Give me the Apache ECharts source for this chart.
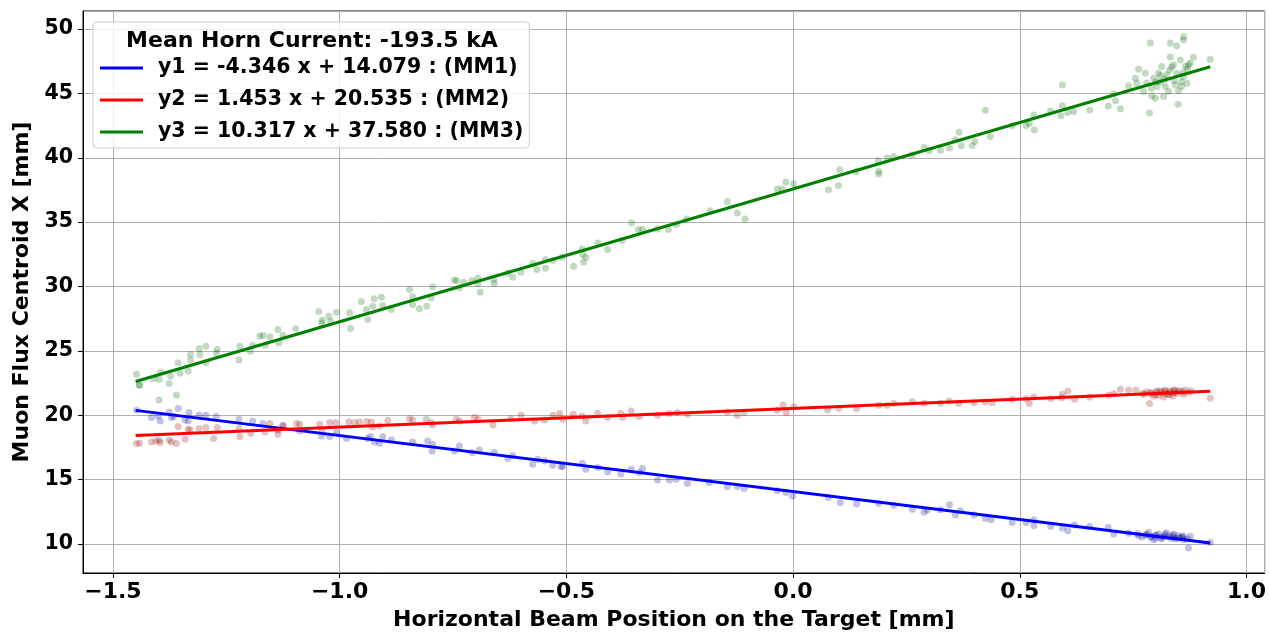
<!DOCTYPE html>
<html>
<head>
<meta charset="utf-8">
<script src="https://cdn.jsdelivr.net/npm/echarts@6/dist/echarts.min.js"></script>
<style>
  html, body { margin: 0; padding: 0; background: #fff; }
  #chart { width: 1269px; height: 636px; }
</style>
</head>
<body>
<div id="chart"></div>
<script>
// Horn current and fit coefficients (y = slope * x + intercept) per muon monitor
const hornCurrentText = 'Mean Horn Current: -193.5 kA';
const monitorNames = ['MM1', 'MM2', 'MM3'];
const fitSlopes = [-4.346, 1.453, 10.317];
const fitIntercepts = [14.079, 20.535, 37.580];
const fitRange = [-1.45, 0.92];

// MM1 centroid measurements
const mm1X = [-1.448,-1.415,-1.400,-1.396,-1.376,-1.371,-1.366,-1.356,-1.341,-1.334,-1.332,-1.310,-1.295,-1.272,-1.222,-1.192,-1.169,-1.125,-1.136,-1.088,
  -1.040,-1.022,-1.007,-0.985,-0.938,-0.932,-0.923,-0.912,-0.905,-0.886,-0.839,-0.806,-0.795,-0.796,-0.747,-0.736,-0.708,-0.692,-0.659,-0.629,
  -0.618,-0.574,-0.563,-0.548,-0.530,-0.508,-0.512,-0.465,-0.457,-0.431,-0.409,-0.380,-0.357,-0.332,-0.339,-0.299,-0.273,-0.258,-0.233,-0.185,
  -0.145,-0.123,-0.108,-0.035,-0.016,-0.001,0.078,0.104,0.140,0.189,0.222,0.263,0.289,0.296,0.325,0.345,0.358,0.369,0.399,0.424,
  0.437,0.483,0.514,0.531,0.531,0.568,0.594,0.606,0.621,0.654,0.695,0.707,0.740,0.762,0.777,0.784,0.788,0.795,0.799,0.806,
  0.812,0.817,0.824,0.832,0.837,0.843,0.850,0.856,0.861,0.872,0.876,0.920,0.780,0.790,0.800,0.810,0.820,0.830,0.840,0.850,
  0.860,0.870,0.800,0.820,0.840,0.860,0.760,0.770];
const mm1Y = [20.39,19.82,19.95,19.56,20.26,19.82,19.90,20.52,19.64,19.56,20.21,20.00,20.00,19.90,19.69,19.56,19.36,19.17,18.86,18.78,
  18.40,18.35,18.66,18.19,18.19,18.35,17.93,17.83,18.35,18.09,17.93,18.01,17.75,17.23,17.23,17.62,17.11,17.31,17.11,16.64,
  16.85,16.20,16.59,16.46,16.12,16.02,16.02,16.28,15.81,15.95,15.60,15.43,15.81,15.87,15.56,14.98,14.98,15.04,14.73,14.78,
  14.44,14.47,14.32,14.13,14.01,13.74,13.62,13.23,13.10,13.16,13.02,12.71,12.46,12.64,12.66,13.05,12.25,12.58,12.25,11.99,
  11.88,11.68,11.68,11.88,11.42,11.37,11.22,11.03,11.47,11.37,11.29,10.78,10.83,10.64,10.70,10.91,10.52,10.33,10.64,10.78,
  10.39,10.52,10.85,10.44,10.70,10.39,10.64,10.52,10.33,9.69,10.60,10.13,10.75,10.60,10.70,10.55,10.65,10.60,10.50,10.45,
  10.50,10.40,10.45,10.80,10.75,10.65,10.80,10.55];

// MM2 centroid measurements
const mm2X = [-1.448,-1.441,-1.415,-1.405,-1.398,-1.396,-1.376,-1.371,-1.360,-1.356,-1.341,-1.334,-1.330,-1.310,-1.295,-1.278,-1.270,-1.222,-1.220,-1.196,
  -1.165,-1.154,-1.136,-1.125,-1.095,-1.088,-1.044,-1.039,-1.022,-1.009,-0.980,-0.967,-0.956,-0.940,-0.930,-0.927,-0.912,-0.894,-0.846,-0.839,
  -0.809,-0.798,-0.795,-0.743,-0.736,-0.703,-0.695,-0.662,-0.622,-0.600,-0.570,-0.548,-0.530,-0.515,-0.508,-0.485,-0.465,-0.457,-0.431,-0.409,
  -0.380,-0.376,-0.357,-0.339,-0.299,-0.273,-0.255,-0.233,-0.145,-0.123,-0.108,-0.035,-0.022,-0.015,0.002,0.076,0.101,0.140,0.189,0.208,
  0.222,0.263,0.289,0.325,0.344,0.366,0.399,0.424,0.439,0.483,0.514,0.521,0.531,0.568,0.592,0.594,0.606,0.621,0.654,0.696,
  0.707,0.722,0.740,0.756,0.775,0.786,0.788,0.795,0.803,0.806,0.812,0.817,0.821,0.826,0.832,0.837,0.841,0.846,0.854,0.861,
  0.865,0.872,0.878,0.920,0.790,0.800,0.810,0.820,0.830,0.840,0.850,0.860,0.830,0.800,0.820,0.840,0.770,0.780];
const mm2Y = [17.81,17.83,17.93,18.01,18.06,17.88,18.06,17.93,17.81,19.12,18.14,18.91,18.86,18.97,19.05,18.19,19.05,18.97,18.35,18.60,
  18.71,19.36,18.53,19.22,19.36,19.30,19.30,18.86,19.43,19.43,19.48,19.43,19.48,19.51,19.48,19.09,19.17,19.61,19.74,19.64,
  19.69,19.43,19.25,19.69,19.56,19.82,19.69,19.25,19.74,20.00,19.56,19.64,20.00,20.13,19.69,20.08,19.95,19.56,20.16,19.82,
  20.13,19.82,20.33,19.90,20.00,20.13,20.21,20.08,20.26,20.00,20.21,20.39,20.80,20.21,20.64,20.41,20.54,20.52,20.78,20.78,
  20.91,21.06,20.93,20.93,21.11,20.93,20.98,21.03,20.98,21.24,21.29,20.91,21.42,21.29,21.37,21.63,21.88,21.24,21.42,21.55,
  21.68,22.02,21.96,21.96,21.63,20.91,21.76,21.50,21.88,21.55,21.76,21.42,21.88,21.63,21.81,21.50,21.96,21.71,21.88,21.63,
  21.96,21.76,21.88,21.32,21.70,21.80,21.90,21.70,21.85,21.75,21.90,21.80,21.60,21.60,21.95,21.95,21.70,21.80];

// MM3 centroid measurements
const mm3X = [-1.448,-1.442,-1.441,-1.411,-1.398,-1.395,-1.398,-1.376,-1.373,-1.360,-1.356,-1.352,-1.334,-1.329,-1.329,-1.310,-1.308,-1.295,-1.295,-1.272,
  -1.270,-1.222,-1.220,-1.197,-1.192,-1.176,-1.169,-1.164,-1.154,-1.136,-1.134,-1.125,-1.097,-1.046,-1.040,-1.038,-1.024,-1.020,-1.007,-0.978,
  -0.976,-0.952,-0.941,-0.938,-0.927,-0.924,-0.908,-0.905,-0.886,-0.846,-0.839,-0.839,-0.824,-0.808,-0.798,-0.795,-0.747,-0.742,-0.736,-0.727,
  -0.708,-0.695,-0.695,-0.690,-0.660,-0.659,-0.629,-0.618,-0.600,-0.574,-0.565,-0.546,-0.546,-0.530,-0.509,-0.484,-0.465,-0.464,-0.457,-0.462,
  -0.431,-0.409,-0.377,-0.356,-0.341,-0.332,-0.299,-0.275,-0.257,-0.235,-0.183,-0.145,-0.123,-0.106,-0.035,-0.016,-0.024,0.001,0.078,0.100,
  0.103,0.139,0.188,0.189,0.189,0.208,0.222,0.263,0.289,0.300,0.325,0.345,0.358,0.366,0.371,0.395,0.401,0.424,0.435,0.483,
  0.514,0.521,0.531,0.532,0.568,0.591,0.594,0.594,0.606,0.619,0.654,0.695,0.707,0.711,0.722,0.740,0.755,0.762,0.758,0.773,
  0.777,0.786,0.788,0.791,0.795,0.799,0.803,0.806,0.810,0.813,0.817,0.821,0.824,0.828,0.832,0.832,0.835,0.839,0.843,0.846,
  0.846,0.849,0.854,0.856,0.857,0.861,0.861,0.861,0.865,0.869,0.872,0.876,0.883,0.920,0.800,0.820,0.840,0.850,0.830,0.790,
  0.810,0.860,0.870,0.780];
const mm3Y = [23.18,22.35,22.33,22.84,22.79,23.36,21.19,22.46,23.05,21.57,24.08,23.26,23.43,24.29,24.73,25.17,24.73,25.37,24.08,24.81,
  25.12,24.29,25.37,24.98,25.43,26.15,26.20,25.43,26.10,26.67,25.64,26.22,26.72,28.06,27.19,27.39,27.70,27.31,28.01,27.96,
  26.74,28.84,28.22,27.44,28.47,29.05,29.17,28.53,28.22,29.77,29.20,28.60,28.27,28.47,29.12,29.98,30.49,30.47,29.90,30.34,
  30.47,30.67,30.21,29.56,30.54,30.23,31.06,30.72,31.11,31.78,31.32,32.09,31.42,32.02,32.27,31.57,32.92,32.48,32.27,31.91,
  33.39,32.87,33.57,34.94,34.42,34.42,34.47,34.42,34.81,35.25,35.89,36.61,35.71,35.25,37.57,38.12,37.57,37.98,37.52,37.85,
  39.07,38.94,39.77,38.94,38.74,39.98,40.10,40.23,40.80,40.54,40.57,40.75,41.40,41.99,40.93,40.95,41.26,43.69,41.65,42.48,
  42.50,42.69,43.33,42.15,43.64,43.26,45.66,44.05,43.51,43.59,43.72,44.03,44.96,44.42,43.80,45.60,46.18,46.87,45.79,45.14,
  46.56,43.47,48.91,44.81,46.18,44.63,45.53,46.56,45.91,47.08,44.75,45.53,46.43,45.14,48.91,47.83,47.05,47.21,45.66,48.70,
  46.56,44.15,47.60,45.91,45.53,49.40,49.15,46.30,47.08,45.79,47.21,47.34,47.80,47.65,45.90,46.10,46.00,45.20,46.80,45.40,
  46.40,46.60,46.90,45.80];

const scatterColors = ['rgba(0,0,139,0.3)', 'rgba(139,0,0,0.3)', 'rgba(0,100,0,0.3)'];
const lineColors = ['#0000ff', '#ff0000', '#008000'];

const font = "'DejaVu Sans', 'Liberation Sans', sans-serif";

function pairs(xs, ys) { return xs.map((x, i) => [x, ys[i]]); }
function fmt(v) { return v.toFixed(3); }
function fitLabel(i) {
  const s = fitSlopes[i];
  const sign = s < 0 ? '-' : '';
  return 'y' + (i + 1) + ' = ' + sign + fmt(Math.abs(s)) + ' x + ' + fmt(fitIntercepts[i]) + ' : (' + monitorNames[i] + ')';
}

const measured = [pairs(mm1X, mm1Y), pairs(mm2X, mm2Y), pairs(mm3X, mm3Y)];

const series = [];
measured.forEach((d, i) => {
  series.push({
    type: 'scatter',
    name: monitorNames[i] + ' data',
    data: d,
    symbolSize: 7,
    itemStyle: { color: scatterColors[i] },
    z: 2,
    silent: true
  });
});
const lineNames = [];
fitSlopes.forEach((s, i) => {
  const name = fitLabel(i);
  lineNames.push({ name: name, icon: 'rect' });
  series.push({
    type: 'line',
    name: name,
    data: fitRange.map(x => [x, s * x + fitIntercepts[i]]),
    symbol: 'none',
    lineStyle: { color: lineColors[i], width: 3 },
    itemStyle: { color: lineColors[i] },
    z: 3,
    silent: true
  });
});

const chart = echarts.init(document.getElementById('chart'), null, { renderer: 'canvas' });
chart.setOption({
  animation: false,
  backgroundColor: '#ffffff',
  grid: {
    left: 83, right: 3, top: 11, bottom: 62,
    show: true, borderColor: '#000', borderWidth: 1
  },
  xAxis: {
    type: 'value',
    min: -1.566, max: 1.04,
    minInterval: 0.5, maxInterval: 0.5,
    name: 'Horizontal Beam Position on the Target [mm]',
    nameLocation: 'middle',
    nameGap: 36,
    nameTextStyle: { fontFamily: font, fontWeight: 'bold', fontSize: 22, color: '#000' },
    axisLine: { show: true, onZero: false, lineStyle: { color: '#000', width: 1 } },
    axisTick: { show: true, inside: false, length: 5, lineStyle: { color: '#000' } },
    axisLabel: {
      showMinLabel: false, showMaxLabel: false,
      margin: 8,
      fontFamily: font, fontWeight: 'bold', fontSize: 22, color: '#000',
      formatter: v => (v < 0 ? '\u2212' : '') + Math.abs(v).toFixed(1)
    },
    splitLine: { show: true, lineStyle: { color: '#b0b0b0', width: 1 } }
  },
  yAxis: {
    type: 'value',
    min: 7.75, max: 51.4,
    minInterval: 5, maxInterval: 5,
    name: 'Muon Flux Centroid X [mm]',
    nameLocation: 'middle',
    nameGap: 47,
    nameTextStyle: { fontFamily: font, fontWeight: 'bold', fontSize: 22, color: '#000' },
    axisLine: { show: true, onZero: false, lineStyle: { color: '#000', width: 1 } },
    axisTick: { show: true, inside: false, length: 5, lineStyle: { color: '#000' } },
    axisLabel: {
      showMinLabel: false, showMaxLabel: false,
      margin: 10,
      fontFamily: font, fontWeight: 'bold', fontSize: 20.5, color: '#000',
      formatter: v => String(Math.round(v))
    },
    splitLine: { show: true, lineStyle: { color: '#b0b0b0', width: 1 } }
  },
  legend: {
    data: lineNames,
    orient: 'vertical',
    left: 93, top: 22,
    padding: [35, 6, 5, 7],
    itemWidth: 43, itemHeight: 3, itemGap: 10,
    backgroundColor: 'rgba(255,255,255,0.8)',
    borderColor: '#cccccc', borderWidth: 1, borderRadius: 4,
    selectedMode: false,
    textStyle: { fontFamily: font, fontWeight: 'bold', fontSize: 20.5, color: '#000', lineHeight: 22, padding: [0, 0, 0, 10] }
  },
  graphic: [{
    type: 'text',
    x: 312, y: 41, z: 100,
    style: {
      text: hornCurrentText,
      fontFamily: font, fontWeight: 'bold', fontSize: 22, fill: '#000',
      align: 'center', verticalAlign: 'middle'
    }
  }],
  series: series
});
</script>
</body>
</html>
